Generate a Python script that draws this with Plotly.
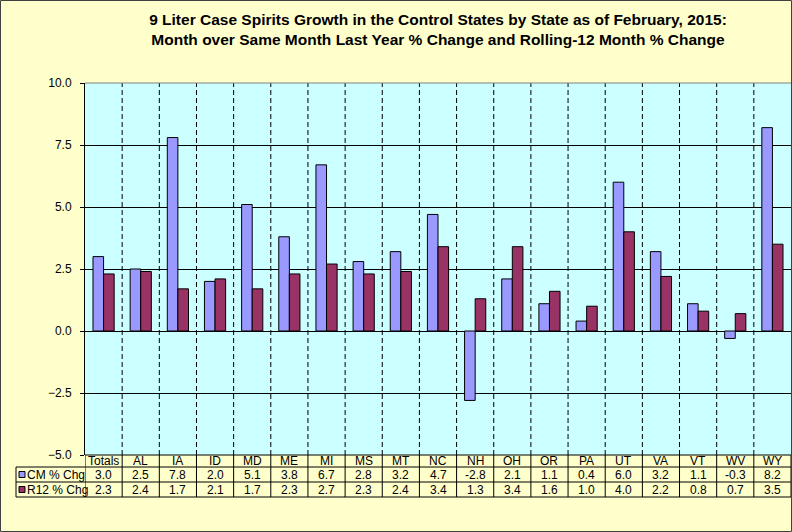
import plotly.graph_objects as go

categories = ["Totals", "AL", "IA", "ID", "MD", "ME", "MI", "MS", "MT", "NC",
              "NH", "OH", "OR", "PA", "UT", "VA", "VT", "WV", "WY"]
cm_chg = [3.0, 2.5, 7.8, 2.0, 5.1, 3.8, 6.7, 2.8, 3.2, 4.7,
          -2.8, 2.1, 1.1, 0.4, 6.0, 3.2, 1.1, -0.3, 8.2]
r12_chg = [2.3, 2.4, 1.7, 2.1, 1.7, 2.3, 2.7, 2.3, 2.4, 3.4,
           1.3, 3.4, 1.6, 1.0, 4.0, 2.2, 0.8, 0.7, 3.5]
series_names = ["CM % Chg", "R12 % Chg"]
colors = ["#9999FF", "#993366"]
title_text = ("9 Liter Case Spirits Growth in the Control States by State as of February, 2015:"
              "<br>Month over Same Month Last Year % Change and Rolling-12 Month % Change")

W, H = 792, 532
ML, MR, MT, MB = 85, 1, 83, 77
PW, PH = W - ML - MR, H - MT - MB
FONT = "Liberation Sans, Arial, sans-serif"


def px_x(X):
    return (X - ML) / PW


def px_y(Y):
    return (H - MB - Y) / PH


fig = go.Figure()
for name, vals, col in zip(series_names, [cm_chg, r12_chg], colors):
    fig.add_trace(go.Bar(x=categories, y=vals, name=name,
                         marker=dict(color=col, line=dict(color="black", width=1))))

shapes = []
n = len(categories)
# dashed vertical gridlines at category boundaries
for i in range(1, n):
    shapes.append(dict(type="line", xref="x", yref="paper", x0=i - 0.5, x1=i - 0.5,
                       y0=0, y1=1, line=dict(color="black", width=1, dash="5px,3px"),
                       layer="below"))

# table geometry (pixel rows)
y_head_top = px_y(455)
y_head_bot = px_y(467)
y_cm_bot = px_y(482)
y_r12_bot = px_y(497)
x_leg_left = px_x(16)

line_style = dict(color="black", width=1)
shapes.append(dict(type="line", xref="paper", yref="paper", x0=0, x1=1,
                   y0=y_head_top, y1=y_head_top, line=line_style))
for yy in [y_head_bot, y_cm_bot, y_r12_bot]:
    shapes.append(dict(type="line", xref="paper", yref="paper", x0=x_leg_left, x1=1,
                       y0=yy, y1=yy, line=line_style))
shapes.append(dict(type="line", xref="paper", yref="paper", x0=x_leg_left, x1=x_leg_left,
                   y0=y_head_bot, y1=y_r12_bot, line=line_style))
for i in range(n + 1):
    shapes.append(dict(type="line", xref="x", yref="paper", x0=i - 0.5, x1=i - 0.5,
                       y0=y_head_top, y1=y_r12_bot, line=line_style))

# plot area top border (grey)
shapes.append(dict(type="line", xref="paper", yref="paper", x0=0, x1=1, y0=1, y1=1,
                   line=dict(color="#808080", width=1)))
# outer chart border
shapes.append(dict(type="rect", xref="paper", yref="paper",
                   x0=px_x(0.5), x1=px_x(791.5), y0=px_y(531.5), y1=px_y(0.5),
                   line=dict(color="#404040", width=1)))

annotations = []
tfont = dict(family=FONT, size=12, color="black")
y_head_mid = (y_head_top + y_head_bot) / 2
y_cm_mid = (y_head_bot + y_cm_bot) / 2
y_r12_mid = (y_cm_bot + y_r12_bot) / 2
for i, cat in enumerate(categories):
    annotations.append(dict(x=cat, y=y_head_mid, xref="x", yref="paper", text=cat,
                            showarrow=False, font=tfont, xanchor="center", yanchor="middle"))
    annotations.append(dict(x=cat, y=y_cm_mid, xref="x", yref="paper", text=f"{cm_chg[i]:.1f}",
                            showarrow=False, font=tfont, xanchor="center", yanchor="middle"))
    annotations.append(dict(x=cat, y=y_r12_mid, xref="x", yref="paper", text=f"{r12_chg[i]:.1f}",
                            showarrow=False, font=tfont, xanchor="center", yanchor="middle"))

# legend keys in the table
for name, col, ymid in zip(series_names, colors, [y_cm_mid, y_r12_mid]):
    sq = 3 / PH
    shapes.append(dict(type="rect", xref="paper", yref="paper",
                       x0=px_x(19), x1=px_x(25), y0=ymid - sq, y1=ymid + sq,
                       fillcolor=col, line=dict(color="black", width=1)))
    annotations.append(dict(x=px_x(25), y=ymid, xref="paper", yref="paper", text=name,
                            showarrow=False, font=tfont, xanchor="left", yanchor="middle"))

fig.update_layout(
    width=W, height=H,
    margin=dict(l=ML, r=MR, t=MT, b=MB, pad=0),
    paper_bgcolor="#FFFFCC",
    plot_bgcolor="#CCFFFF",
    showlegend=False,
    barmode="group",
    bargap=0.43,
    bargroupgap=0,
    title=dict(text=f"<b>{title_text}</b>", x=0.5, xanchor="center", xref="paper",
               y=1 - 25 / H, yanchor="top", yref="container",
               font=dict(family=FONT, size=15.5, color="black")),
    font=dict(family=FONT, color="black"),
    shapes=shapes,
    annotations=annotations,
    xaxis=dict(type="category", range=[-0.5, n - 0.5], showticklabels=False,
               showgrid=False, zeroline=False, showline=False, ticks=""),
    yaxis=dict(range=[-5, 10], dtick=2.5, tick0=0, tickformat=".1f",
               showgrid=True, gridcolor="black", gridwidth=1,
               zeroline=False, showline=True, linecolor="black", linewidth=1,
               ticks="outside", ticklen=4, tickcolor="black",
               ticklabelstandoff=6,
               tickfont=dict(family=FONT, size=12, color="black")),
)

fig.write_html("out.html", config={"displayModeBar": False},
               post_script="document.body.style.margin='0';document.body.style.overflow='hidden';")
